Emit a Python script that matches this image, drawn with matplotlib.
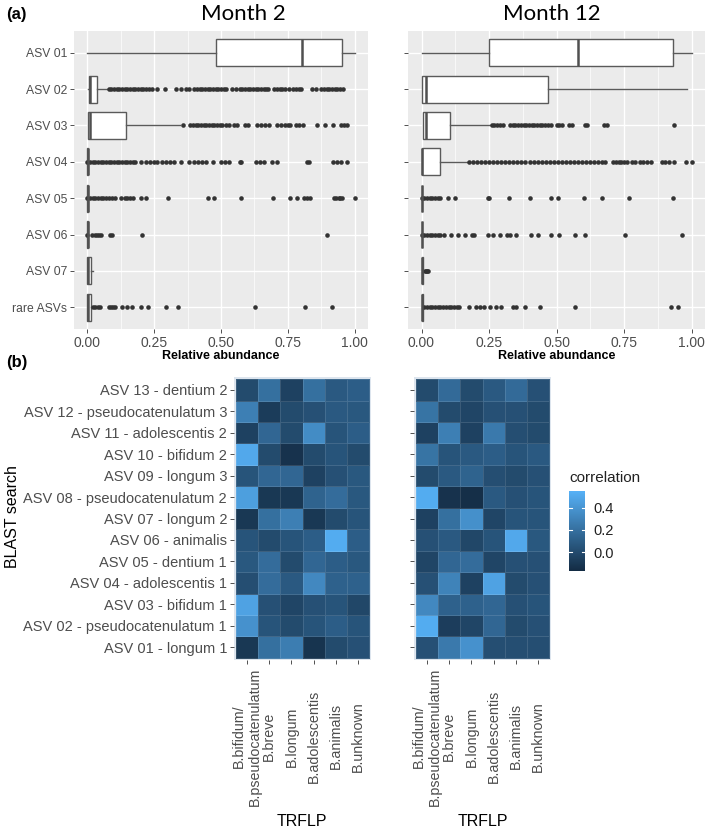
import matplotlib
matplotlib.use('Agg')
import matplotlib.pyplot as plt
import numpy as np
from matplotlib.colors import LinearSegmentedColormap
from matplotlib.cm import ScalarMappable
from matplotlib.colors import Normalize

plt.rcParams['font.family'] = ['Liberation Sans', 'DejaVu Sans']

# ---------------- data: panel (a) boxplots ----------------
box_labels = ['ASV 01', 'ASV 02', 'ASV 03', 'ASV 04', 'ASV 05', 'ASV 06', 'ASV 07', 'rare ASVs']

# Month 2 box statistics
m2_whislo = [0.0, 0.003, 0.004, 0.0, 0.0, 0.0, 0.0, 0.0]
m2_q1 = [0.483, 0.006, 0.004, 0.0, 0.0, 0.0, 0.0, 0.0]
m2_med = [0.803, 0.010, 0.009, 0.001, 0.001, 0.001, 0.003, 0.004]
m2_q3 = [0.954, 0.036, 0.144, 0.002, 0.002, 0.002, 0.012, 0.012]
m2_whishi = [1.0, 0.077, 0.347, 0.003, 0.003, 0.003, 0.020, 0.016]
m2_fliers = [
    [],
    [0.08, 0.09, 0.10, 0.11, 0.12, 0.13, 0.14, 0.15, 0.16, 0.17, 0.18, 0.19, 0.20, 0.21, 0.22, 0.23, 0.24,
     0.26, 0.29, 0.33, 0.35, 0.37, 0.38, 0.40, 0.41, 0.42, 0.43, 0.44, 0.45, 0.46, 0.47, 0.48, 0.49, 0.50,
     0.51, 0.52, 0.54, 0.555, 0.57, 0.58, 0.59, 0.60, 0.61, 0.62, 0.63, 0.64, 0.65, 0.66, 0.67, 0.675,
     0.70, 0.71, 0.72, 0.73, 0.74, 0.755, 0.77, 0.78, 0.79, 0.80, 0.84, 0.855, 0.875, 0.885, 0.895,
     0.905, 0.915, 0.925, 0.935, 0.945, 0.955],
    [0.357, 0.385, 0.395, 0.405, 0.415, 0.425, 0.435, 0.445, 0.455, 0.465, 0.475, 0.485, 0.495, 0.505,
     0.52, 0.53, 0.55, 0.56, 0.59, 0.60, 0.635, 0.65, 0.665, 0.68, 0.71, 0.725, 0.74, 0.75, 0.76, 0.78,
     0.79, 0.805, 0.86, 0.89, 0.92, 0.95, 0.96, 0.97],
    [0.0, 0.01, 0.02, 0.03, 0.04, 0.05, 0.06, 0.07, 0.08, 0.09, 0.10, 0.11, 0.12, 0.13, 0.14, 0.15, 0.16,
     0.17, 0.18, 0.20, 0.22, 0.235, 0.25, 0.26, 0.28, 0.295, 0.31, 0.325, 0.35, 0.38, 0.40, 0.415, 0.43,
     0.445, 0.47, 0.50, 0.515, 0.53, 0.57, 0.575, 0.63, 0.645, 0.66, 0.69, 0.71, 0.82, 0.83, 0.92, 0.935,
     0.95, 0.97],
    [0.0, 0.01, 0.02, 0.03, 0.04, 0.05, 0.06, 0.07, 0.08, 0.093, 0.105, 0.124, 0.14, 0.15, 0.16, 0.17,
     0.20, 0.22, 0.30, 0.452, 0.473, 0.576, 0.694, 0.758, 0.783, 0.81, 0.82, 0.833, 0.923, 0.93, 0.94,
     0.947, 0.954, 1.0],
    [0.0, 0.019, 0.027, 0.035, 0.043, 0.05, 0.084, 0.093, 0.204, 0.898],
    [],
    [0.022, 0.03, 0.038, 0.047, 0.08, 0.088, 0.096, 0.105, 0.13, 0.149, 0.167, 0.20, 0.225, 0.294, 0.338,
     0.627, 0.813, 0.917],
]

# Month 12 box statistics
m12_whislo = [0.0, 0.0, 0.004, 0.0, 0.0, 0.0, 0.0, 0.0]
m12_q1 = [0.25, 0.0, 0.004, 0.0, 0.0, 0.0, 0.0, 0.0]
m12_med = [0.58, 0.015, 0.015, 0.002, 0.001, 0.001, 0.002, 0.003]
m12_q3 = [0.93, 0.467, 0.106, 0.069, 0.002, 0.002, 0.005, 0.006]
m12_whishi = [1.0, 0.984, 0.254, 0.173, 0.003, 0.003, 0.008, 0.009]
m12_fliers = [
    [],
    [],
    [0.262, 0.27, 0.28, 0.29, 0.30, 0.328, 0.338, 0.348, 0.358, 0.368, 0.378, 0.388, 0.398, 0.408, 0.418,
     0.428, 0.438, 0.448, 0.458, 0.47, 0.48, 0.50, 0.51, 0.52, 0.545, 0.557, 0.607, 0.613, 0.675, 0.687,
     0.935],
    [0.177, 0.19, 0.205, 0.22, 0.235, 0.25, 0.265, 0.28, 0.295, 0.31, 0.325, 0.34, 0.355, 0.37, 0.385,
     0.40, 0.415, 0.43, 0.445, 0.46, 0.475, 0.49, 0.505, 0.52, 0.535, 0.55, 0.565, 0.58, 0.595, 0.61,
     0.625, 0.64, 0.655, 0.67, 0.68, 0.71, 0.72, 0.73, 0.74, 0.75, 0.76, 0.78, 0.79, 0.81, 0.82, 0.835,
     0.85, 0.89, 0.90, 0.915, 0.935, 0.978, 1.0],
    [0.0, 0.01, 0.02, 0.03, 0.04, 0.05, 0.06, 0.07, 0.097, 0.124, 0.245, 0.25, 0.325, 0.40, 0.48, 0.505,
     0.60, 0.67, 0.77, 0.93],
    [0.0, 0.01, 0.02, 0.03, 0.04, 0.05, 0.06, 0.07, 0.085, 0.11, 0.136, 0.16, 0.186, 0.196, 0.248, 0.266,
     0.29, 0.315, 0.328, 0.35, 0.406, 0.433, 0.48, 0.51, 0.57, 0.605, 0.752, 0.963],
    [0.012, 0.016, 0.02, 0.025],
    [0.01, 0.02, 0.03, 0.04, 0.05, 0.06, 0.07, 0.08, 0.09, 0.10, 0.11, 0.12, 0.13, 0.14, 0.175, 0.20,
     0.215, 0.233, 0.255, 0.275, 0.296, 0.34, 0.35, 0.383, 0.439, 0.568, 0.925, 0.95],
]

# ---------------- data: panel (b) heatmaps ----------------
blast_labels = ['ASV 01 - longum 1', 'ASV 02 - pseudocatenulatum 1', 'ASV 03 - bifidum 1',
                'ASV 04 - adolescentis 1', 'ASV 05 - dentium 1', 'ASV 06 - animalis',
                'ASV 07 - longum 2', 'ASV 08 - pseudocatenulatum 2', 'ASV 09 - longum 3',
                'ASV 10 - bifidum 2', 'ASV 11 - adolescentis 2', 'ASV 12 - pseudocatenulatum 3',
                'ASV 13 - dentium 2']
trflp_labels = ['B.bifidum/\nB.pseudocatenulatum', 'B.breve', 'B.longum', 'B.adolescentis',
                'B.animalis', 'B.unknown']

# rows ASV 01 .. ASV 13 (bottom to top)
m2_corr = [
    [-0.10, 0.20, 0.27, -0.12, 0.00, 0.03],
    [0.38, 0.05, 0.00, 0.05, 0.10, 0.05],
    [0.47, 0.03, -0.03, 0.03, 0.05, -0.02],
    [0.02, 0.18, 0.08, 0.33, 0.12, 0.12],
    [0.07, 0.18, 0.00, 0.15, 0.10, 0.07],
    [0.05, 0.00, 0.05, 0.10, 0.52, 0.10],
    [-0.10, 0.20, 0.28, -0.10, 0.00, 0.05],
    [0.45, -0.10, -0.10, 0.13, 0.18, 0.07],
    [0.05, 0.15, 0.15, -0.05, 0.03, 0.07],
    [0.50, 0.00, -0.13, 0.00, 0.05, 0.00],
    [-0.05, 0.15, 0.00, 0.35, 0.05, 0.10],
    [0.28, -0.08, 0.00, 0.03, 0.08, 0.07],
    [0.00, 0.20, -0.05, 0.20, 0.08, 0.10],
]
m12_corr = [
    [0.03, 0.25, 0.38, 0.02, 0.02, 0.02],
    [0.52, -0.07, -0.03, 0.15, 0.00, 0.03],
    [0.33, 0.12, 0.12, 0.15, 0.03, 0.05],
    [0.03, 0.30, -0.05, 0.47, 0.00, 0.03],
    [-0.03, 0.15, 0.18, -0.03, 0.03, 0.03],
    [0.03, 0.08, -0.02, 0.05, 0.50, 0.07],
    [-0.05, 0.20, 0.37, -0.03, 0.05, 0.05],
    [0.52, -0.13, -0.15, 0.08, 0.03, 0.05],
    [0.00, 0.08, 0.13, 0.02, 0.00, 0.03],
    [0.22, 0.05, 0.08, 0.10, 0.05, 0.08],
    [-0.05, 0.28, -0.05, 0.25, 0.02, 0.00],
    [0.22, 0.00, -0.03, 0.03, 0.03, 0.00],
    [0.00, 0.17, 0.00, 0.08, 0.17, 0.03],
]
corr_ticks = [0.0, 0.2, 0.4]
corr_min, corr_max = -0.17, 0.55

W, H = 709, 835
fig = plt.figure(figsize=(W / 100, H / 100), dpi=100)


def rect(x0, y0, x1, y1):
    # pixel box (top-down) -> figure fraction
    return [x0 / W, 1 - y1 / H, (x1 - x0) / W, (y1 - y0) / H]


TICK_GREY = '#4D4D4D'


def box_panel(ax, whislo, q1, med, q3, whishi, fliers, show_labels):
    stats = []
    for i in range(len(box_labels)):
        stats.append(dict(whislo=whislo[i], q1=q1[i], med=med[i], q3=q3[i], whishi=whishi[i],
                          fliers=fliers[i]))
    ax.set_facecolor('#EBEBEB')
    ax.bxp(stats, positions=np.arange(1, len(stats) + 1), orientation='horizontal', widths=0.75,
           showcaps=False, patch_artist=True,
           boxprops=dict(facecolor='white', edgecolor='#5a5a5a', linewidth=1.0),
           whiskerprops=dict(color='#5a5a5a', linewidth=1.0),
           medianprops=dict(color='#505050', linewidth=1.8),
           flierprops=dict(marker='o', markersize=3.3, markerfacecolor='#333333',
                           markeredgecolor='none'))
    ax.set_xlim(-0.05, 1.05)
    ax.set_ylim(len(box_labels) + 0.6, 0.4)
    ax.set_xticks([0, 0.25, 0.5, 0.75, 1.0])
    ax.set_xticklabels(['0.00', '0.25', '0.50', '0.75', '1.00'], fontsize=10, color=TICK_GREY)
    ax.set_xticks([0.125, 0.375, 0.625, 0.875], minor=True)
    ax.set_yticks(np.arange(1, len(box_labels) + 1))
    ax.set_yticklabels(box_labels if show_labels else [], fontsize=8.7, color=TICK_GREY)
    ax.grid(True, which='major', color='white', linewidth=1.0)
    ax.grid(True, which='minor', axis='x', color='white', linewidth=0.5)
    ax.set_axisbelow(True)
    ax.tick_params(which='major', length=3, width=0.6, color='#333333', pad=2)
    ax.tick_params(which='minor', length=0)
    for s in ax.spines.values():
        s.set_visible(False)
    ax.set_xlabel('Relative abundance', fontsize=9, fontweight='bold', labelpad=0)


ax1 = fig.add_axes(rect(74, 31, 368, 329))
box_panel(ax1, m2_whislo, m2_q1, m2_med, m2_q3, m2_whishi, m2_fliers, True)
ax2 = fig.add_axes(rect(408, 31, 705, 329))
box_panel(ax2, m12_whislo, m12_q1, m12_med, m12_q3, m12_whishi, m12_fliers, False)

fig.text(243 / W, 1 - 14 / H, 'Month 2', fontsize=16, family=['Lato', 'DejaVu Sans'],
         ha='center', va='center')
fig.text(552 / W, 1 - 14 / H, 'Month 12', fontsize=16, family=['Lato', 'DejaVu Sans'],
         ha='center', va='center')
fig.text(6 / W, 1 - 15 / H, '(a)', fontsize=12, fontweight='bold', ha='left', va='center')
fig.text(6 / W, 1 - 362 / H, '(b)', fontsize=12, fontweight='bold', ha='left', va='center')

# heatmaps
cmap = LinearSegmentedColormap.from_list('gg', ['#132B43', '#56B1F7'])


def heat_panel(ax, corr, show_labels):
    arr = np.array(corr)
    ax.set_facecolor('#dde5ee')
    ax.pcolormesh(np.arange(arr.shape[1] + 1), np.arange(arr.shape[0] + 1), arr, cmap=cmap,
                  vmin=corr_min, vmax=corr_max, edgecolors=(1, 1, 1, 0.12), linewidth=0.5)
    ax.set_xlim(-0.1, arr.shape[1] + 0.1)
    ax.set_ylim(-0.1, arr.shape[0] + 0.1)
    ax.set_xticks(np.arange(arr.shape[1]) + 0.5)
    ax.set_xticklabels(trflp_labels, rotation=90, ha='center', va='center', multialignment='center',
                       fontsize=10.3, color=TICK_GREY)
    ax.set_yticks(np.arange(arr.shape[0]) + 0.5)
    ax.set_yticklabels(blast_labels if show_labels else [], fontsize=10.5, color=TICK_GREY)
    ax.tick_params(axis='x', length=3, width=0.6, color='#333333', pad=52)
    ax.tick_params(axis='y', length=3, width=0.6, color='#333333', pad=2)
    for s in ax.spines.values():
        s.set_visible(False)


ax3 = fig.add_axes(rect(234, 377, 371, 660))
heat_panel(ax3, m2_corr, True)
ax4 = fig.add_axes(rect(414, 377, 551, 660))
heat_panel(ax4, m12_corr, False)

fig.text(302 / W, 1 - 821 / H, 'TRFLP', fontsize=11.5, ha='center', va='center')
fig.text(483 / W, 1 - 821 / H, 'TRFLP', fontsize=11.5, ha='center', va='center')
fig.text(13 / W, 1 - 517 / H, 'BLAST search', fontsize=11.5, rotation=90, ha='center', va='center')

# legend
cax = fig.add_axes(rect(569, 491, 585, 571))
sm = ScalarMappable(norm=Normalize(corr_min, corr_max), cmap=cmap)
cb = fig.colorbar(sm, cax=cax)
cb.outline.set_visible(False)
cb.set_ticks(corr_ticks)
cb.set_ticklabels(['0.0', '0.2', '0.4'])
cax.tick_params(length=0, labelsize=10.5, pad=6, labelcolor='#222222')
for t in corr_ticks:
    cax.plot([0, 0.2], [t, t], color='white', linewidth=0.8, transform=cax.get_yaxis_transform())
    cax.plot([0.8, 1.0], [t, t], color='white', linewidth=0.8, transform=cax.get_yaxis_transform())
fig.text(569 / W, 1 - 478 / H, 'correlation', fontsize=11, ha='left', va='center', color='#222222')

fig.savefig('out.png', dpi=100)
